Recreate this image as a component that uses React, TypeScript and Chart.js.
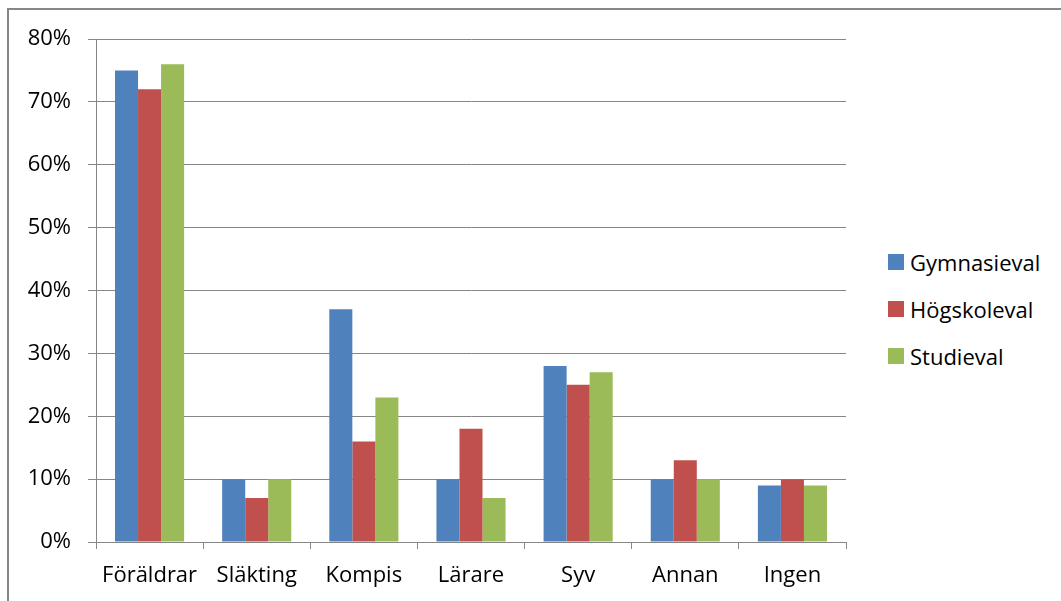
import React, { useEffect, useRef } from "react";
import { Chart, registerables } from "chart.js";

Chart.register(...registerables);

const categories = ["Föräldrar", "Släkting", "Kompis", "Lärare", "Syv", "Annan", "Ingen"];
const gymnasieval = [75, 10, 37, 10, 28, 10, 9];
const hogskoleval = [72, 7, 16, 18, 25, 13, 10];
const studieval = [76, 10, 23, 7, 27, 10, 9];
const seriesNames = ["Gymnasieval", "Högskoleval", "Studieval"];
const seriesColors = ["#4F81BD", "#C0504D", "#9BBB59"];
const yTicks = [0, 10, 20, 30, 40, 50, 60, 70, 80];

const FONT = "'Open Sans', Lato, sans-serif";

export default function App() {
  const ref = useRef<HTMLCanvasElement | null>(null);

  useEffect(() => {
    if (!ref.current) return;
    const values = [gymnasieval, hogskoleval, studieval];
    const chart = new Chart(ref.current, {
      type: "bar",
      data: {
        labels: categories,
        datasets: seriesNames.map((name, i) => ({
          label: name,
          data: values[i],
          backgroundColor: seriesColors[i],
          borderWidth: 0,
          barPercentage: 1,
          categoryPercentage: 0.645,
        })),
      },
      options: {
        animation: false,
        responsive: false,
        maintainAspectRatio: false,
        layout: { padding: { top: 39, right: 24, left: 0, bottom: 0 } },
        plugins: { legend: { display: false }, tooltip: { enabled: false } },
        scales: {
          x: {
            offset: true,
            grid: {
              offset: true,
              drawOnChartArea: false,
              drawTicks: true,
              tickLength: 7,
              color: "#868686",
            },
            border: { display: true, color: "#868686", width: 1 },
            ticks: {
              color: "#000",
              font: { family: FONT, size: 22 },
              padding: 14,
              maxRotation: 0,
              autoSkip: false,
            },
            afterFit: (s: any) => {
              s.height = 59;
            },
          },
          y: {
            min: 0,
            max: 80,
            afterBuildTicks: (s: any) => {
              s.ticks = yTicks.map((v) => ({ value: v }));
            },
            grid: { color: "#868686", tickLength: 8, drawTicks: true },
            border: { display: true, color: "#868686", width: 1 },
            ticks: {
              color: "#000",
              font: { family: FONT, size: 22 },
              padding: 17,
              callback: (v: any) => v + "%",
            },
            afterFit: (s: any) => {
              s.width = 96;
            },
          },
        },
      },
    });
    return () => chart.destroy();
  }, []);

  return (
    <div style={{ position: "fixed", left: 0, top: 0, width: 1061, height: 601, overflow: "hidden", background: "#fff" }}>
      <div
        style={{
          position: "absolute",
          left: 7,
          top: 8,
          width: 1200,
          height: 700,
          borderTop: "2px solid #878787",
          borderLeft: "2px solid #878787",
        }}
      />
      <canvas ref={ref} width={870} height={601} style={{ position: "absolute", left: 0, top: 0 }} />
      {seriesNames.map((name, i) => (
        <div
          key={name}
          style={{
            position: "absolute",
            left: 888,
            top: 262 + i * 47 - 15,
            height: 30,
            display: "flex",
            alignItems: "center",
            fontFamily: FONT,
            fontSize: 22,
            color: "#000",
            whiteSpace: "nowrap",
          }}
        >
          <span style={{ display: "inline-block", width: 16, height: 16, background: seriesColors[i], marginRight: 6 }} />
          {name}
        </div>
      ))}
    </div>
  );
}
